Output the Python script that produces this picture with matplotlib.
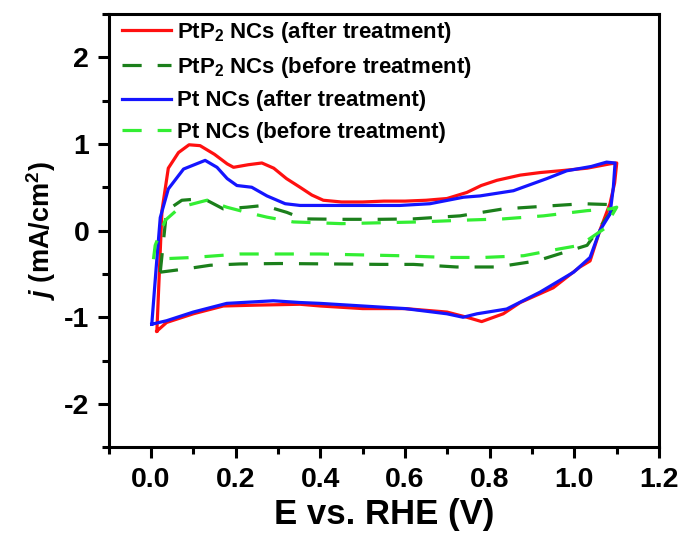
import matplotlib
matplotlib.use('Agg')
from matplotlib import pyplot as plt
from matplotlib.ticker import MultipleLocator

plt.rcParams['font.family'] = 'Liberation Sans'
plt.rcParams['font.weight'] = 'bold'
plt.rcParams['axes.unicode_minus'] = False
plt.rcParams['mathtext.fontset'] = 'custom'
plt.rcParams['mathtext.rm'] = 'Liberation Sans:bold'
plt.rcParams['mathtext.it'] = 'Liberation Sans:italic:bold'
plt.rcParams['mathtext.bf'] = 'Liberation Sans:bold'

# PtP2 NCs (after treatment)
E_red = [0.014, 0.026, 0.041, 0.065, 0.09, 0.116, 0.15, 0.18, 0.195, 0.23, 0.262, 0.29, 0.32,
         0.352, 0.38, 0.407, 0.45, 0.5, 0.55, 0.6, 0.65, 0.699, 0.746, 0.78, 0.817, 0.872, 0.92,
         0.966, 1.03, 1.084, 1.10, 1.095, 1.084, 1.06, 1.037, 1.013, 0.95, 0.872, 0.832, 0.781,
         0.746, 0.699, 0.6, 0.5, 0.4, 0.352, 0.25, 0.171, 0.1, 0.037, 0.014]
j_red = [-1.16, 0.23, 0.72, 0.9, 0.99, 0.98, 0.88, 0.77, 0.73, 0.76, 0.78, 0.72, 0.6,
         0.5, 0.41, 0.35, 0.33, 0.33, 0.34, 0.34, 0.35, 0.37, 0.44, 0.52, 0.58, 0.64, 0.67,
         0.69, 0.72, 0.77, 0.78, 0.55, 0.31, 0.0, -0.35, -0.42, -0.66, -0.83, -0.96, -1.05,
         -1.0, -0.94, -0.9, -0.9, -0.87, -0.85, -0.86, -0.87, -0.96, -1.06, -1.16]

# PtP2 NCs (before treatment)
E_dg = [0.022, 0.03, 0.037, 0.073, 0.124, 0.171, 0.226, 0.266, 0.321, 0.36, 0.45, 0.541, 0.62,
        0.73, 0.832, 0.926, 1.02, 1.084, 1.10, 1.084, 1.03, 0.99, 0.911, 0.817, 0.722, 0.62,
        0.541, 0.43, 0.305, 0.21, 0.14, 0.085, 0.022]
j_dg = [-0.48, -0.1, 0.23, 0.35, 0.37, 0.25, 0.27, 0.29, 0.21, 0.135, 0.13, 0.13, 0.135,
        0.17, 0.25, 0.28, 0.31, 0.3, 0.3, 0.2, -0.17, -0.23, -0.35, -0.42, -0.42, -0.39,
        -0.39, -0.385, -0.38, -0.385, -0.40, -0.44, -0.48]

# Pt NCs (after treatment)
E_blue = [0.002, 0.012, 0.022, 0.041, 0.077, 0.128, 0.156, 0.18, 0.203, 0.238, 0.274, 0.317,
          0.352, 0.45, 0.541, 0.588, 0.659, 0.738, 0.777, 0.856, 0.935, 0.982, 1.04, 1.076,
          1.096, 1.092, 1.084, 1.06, 1.037, 0.998, 0.919, 0.84, 0.77, 0.737, 0.699, 0.6, 0.5,
          0.4, 0.352, 0.289, 0.179, 0.1, 0.037, 0.002]
j_blue = [-1.08, -0.45, 0.15, 0.48, 0.71, 0.81, 0.73, 0.6, 0.52, 0.50, 0.40, 0.31,
          0.29, 0.29, 0.29, 0.29, 0.31, 0.385, 0.40, 0.46, 0.60, 0.69, 0.74, 0.79,
          0.78, 0.5, 0.19, 0.0, -0.31, -0.48, -0.71, -0.905, -0.96, -1.0, -0.96, -0.9, -0.87,
          -0.84, -0.83, -0.81, -0.84, -0.94, -1.04, -1.08]

# Pt NCs (before treatment)
E_lg = [0.006, 0.01, 0.034, 0.069, 0.132, 0.179, 0.226, 0.274, 0.336, 0.45, 0.541, 0.636,
        0.738, 0.832, 0.927, 1.03, 1.084, 1.10, 1.07, 1.013, 0.966, 0.88, 0.785, 0.699, 0.588,
        0.399, 0.21, 0.1, 0.006]
j_lg = [-0.33, -0.17, 0.12, 0.27, 0.35, 0.27, 0.21, 0.155, 0.10, 0.08, 0.09, 0.10,
        0.12, 0.135, 0.17, 0.23, 0.25, 0.27, 0.02, -0.17, -0.21, -0.29, -0.31, -0.31, -0.29,
        -0.27, -0.27, -0.31, -0.33]

labels = ['PtP$_2$ NCs (after treatment)', 'PtP$_2$ NCs (before treatment)',
          'Pt NCs (after treatment)', 'Pt NCs (before treatment)']
xticks = [0.0, 0.2, 0.4, 0.6, 0.8, 1.0, 1.2]
xticklabels = ['0.0', '0.2', '0.4', '0.6', '0.8', '1.0', '1.2']

fig = plt.figure(figsize=(6.83, 5.35), dpi=100)
ax = fig.add_axes([0.159, 0.164, 0.806, 0.81])

ax.plot(E_red, j_red, color='#ff1010', lw=2.3, label=labels[0])
ax.plot(E_dg, j_dg, color='#1b7f1b', lw=2.3, dashes=(6, 5), label=labels[1])
ax.plot(E_blue, j_blue, color='#1515ff', lw=2.3, label=labels[2])
ax.plot(E_lg, j_lg, color='#33ee33', lw=2.3, dashes=(6, 5), label=labels[3])

ax.set_xlim(-0.1, 1.2)
ax.set_ylim(-2.5, 2.5)
ax.set_xticks(xticks)
ax.set_xticklabels(xticklabels)
ax.xaxis.set_minor_locator(MultipleLocator(0.1))
ax.yaxis.set_major_locator(MultipleLocator(1))
ax.yaxis.set_minor_locator(MultipleLocator(0.5))

for s in ax.spines.values():
    s.set_linewidth(2.2)
ax.tick_params(which='major', direction='out', length=8, width=2.2, labelsize=20.5, pad=6)
ax.tick_params(which='minor', direction='out', length=5, width=2.2)
for t in ax.get_xticklabels() + ax.get_yticklabels():
    t.set_fontweight('bold')

ax.set_xlabel('E vs. RHE (V)', fontsize=25, fontweight='bold', labelpad=4)
ax.set_ylabel('$j$ (mA/cm$^2$)', fontsize=19.5, fontweight='bold', labelpad=4)

leg = ax.legend(loc='upper left', bbox_to_anchor=(0.025, 0.986), frameon=False,
                handlelength=2.2, handletextpad=0.25, borderpad=0.0, borderaxespad=0.0,
                labelspacing=0.46, prop={'weight': 'bold', 'size': 16})

fig.savefig('out.png', dpi=100)
